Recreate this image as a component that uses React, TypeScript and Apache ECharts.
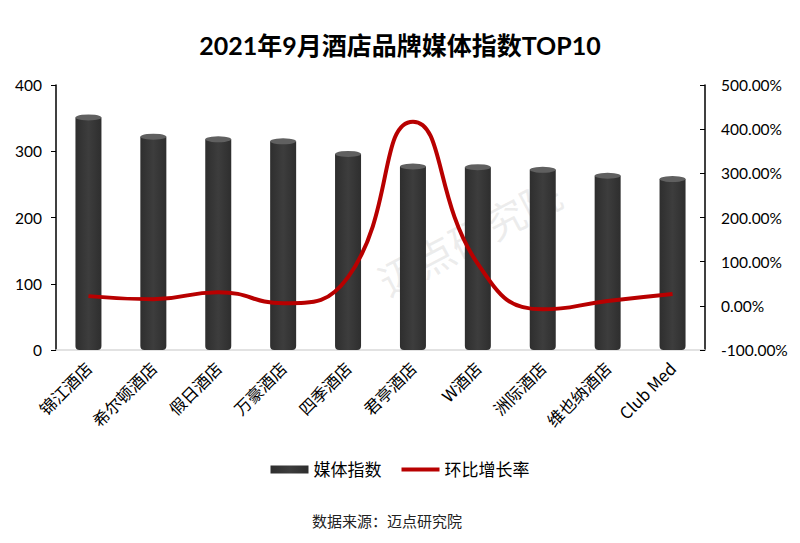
import React, { useEffect, useRef } from "react"
import * as echarts from "echarts"

const categories = [
  "锦江酒店",
  "希尔顿酒店",
  "假日酒店",
  "万豪酒店",
  "四季酒店",
  "君亭酒店",
  "W酒店",
  "洲际酒店",
  "维也纳酒店",
  "Club Med",
]

// 媒体指数
const mediaIndex = [351, 322, 318, 315, 296, 277, 276, 272, 263, 258]

// 环比增长率 (%)
const growthRate = [22, 15, 31, 6, 65, 417, 95, -8, 11, 27]

const FONT = "Lato, 'Noto Sans CJK SC', sans-serif"

export default function App() {
  const chartEl = useRef<HTMLDivElement>(null)

  useEffect(() => {
    document.body.style.margin = "0"
    const el = chartEl.current
    if (!el) return
    const chart = echarts.init(el, undefined, { renderer: "svg" })

    chart.setOption({
      animation: false,
      backgroundColor: "#ffffff",
      textStyle: { fontFamily: FONT },
      title: {
        text: "2021年9月酒店品牌媒体指数TOP10",
        left: "center",
        top: 27,
        textStyle: { fontSize: 25, fontWeight: "bold", color: "#000", fontFamily: FONT },
      },
      legend: {
        bottom: 60,
        left: "center",
        itemWidth: 38,
        itemHeight: 8,
        itemGap: 20,
        textStyle: { fontSize: 17, color: "#000", fontFamily: FONT },
        data: [
          { name: "媒体指数", icon: "rect" },
          { name: "环比增长率", icon: "path://M0 0H40V4H0Z" },
        ],
      },
      grid: { left: 56, right: 95, top: 85, bottom: 193 },
      graphic: [
        {
          type: "text",
          x: 470,
          y: 238,
          rotation: Math.PI / 6.5,
          z: -10,
          style: {
            text: "迈点研究院",
            fontSize: 40,
            fontFamily: FONT,
            fill: "rgba(170,170,170,0.22)",
            align: "center",
            verticalAlign: "middle",
          },
        },
        {
          type: "text",
          left: 312,
          top: 513,
          style: {
            text: "数据来源：迈点研究院",
            fontSize: 15,
            fontFamily: FONT,
            fill: "#222",
          },
        },
      ],
      xAxis: {
        type: "category",
        data: categories,
        axisLine: { lineStyle: { color: "#d9d9d9", width: 1.5 } },
        axisTick: { show: false },
        axisLabel: {
          rotate: 45,
          fontSize: 16.5,
          color: "#000",
          margin: 15,
          interval: 0,
          fontFamily: "'Noto Sans CJK SC', sans-serif",
        },
      },
      yAxis: [
        {
          type: "value",
          min: 0,
          max: 400,
          interval: 100,
          axisLine: { show: true, lineStyle: { color: "#000", width: 1.5 } },
          axisTick: { show: true, inside: false, length: 5, lineStyle: { color: "#000" } },
          splitLine: { show: false },
          axisLabel: { fontSize: 15.5, color: "#000", margin: 14 },
        },
        {
          type: "value",
          min: -100,
          max: 500,
          interval: 100,
          axisLine: { show: true, lineStyle: { color: "#000", width: 1.5 } },
          axisTick: { show: true, inside: true, length: 5, lineStyle: { color: "#000" } },
          splitLine: { show: false },
          axisLabel: {
            fontSize: 15.5,
            color: "#000",
            margin: 16,
            formatter: (v: number) => v.toFixed(2) + "%",
          },
        },
      ],
      series: [
        {
          name: "媒体指数",
          type: "bar",
          data: mediaIndex,
          barWidth: 26,
          itemStyle: {
            color: new echarts.graphic.LinearGradient(0, 0, 1, 0, [
              { offset: 0, color: "#2e2e2e" },
              { offset: 0.5, color: "#3d3d3d" },
              { offset: 1, color: "#2e2e2e" },
            ]),
            borderRadius: [0, 0, 4, 4],
          },
          z: 2,
        },
        {
          name: "top",
          type: "pictorialBar",
          data: mediaIndex,
          symbol: "circle",
          symbolSize: [26, 6],
          symbolPosition: "end",
          symbolOffset: [0, "-50%"],
          itemStyle: { color: "#606060" },
          tooltip: { show: false },
          z: 3,
        },
        {
          name: "环比增长率",
          type: "line",
          yAxisIndex: 1,
          data: growthRate,
          smooth: true,
          symbol: "none",
          lineStyle: { color: "#b80000", width: 4 },
          itemStyle: { color: "#b80000" },
          z: 5,
        },
      ],
    })

    return () => chart.dispose()
  }, [])

  return <div ref={chartEl} style={{ width: 800, height: 543 }} />
}
